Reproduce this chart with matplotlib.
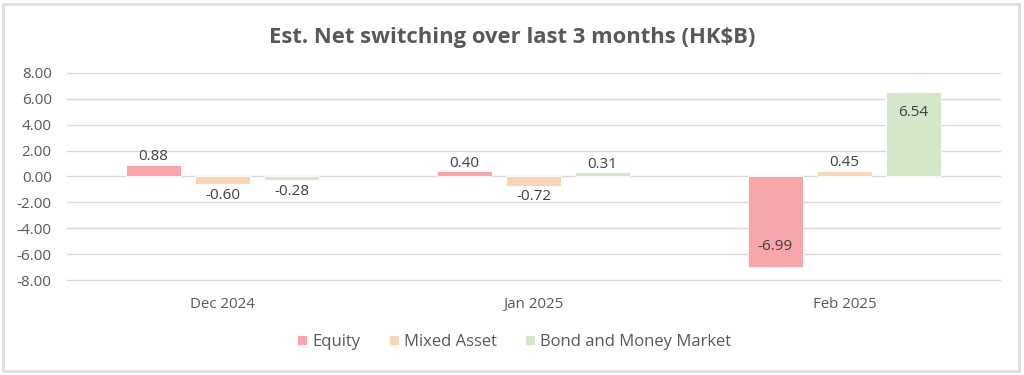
import numpy as np
import matplotlib.pyplot as plt
from matplotlib.patches import Rectangle

plt.rcParams["font.family"] = ["Open Sans", "DejaVu Sans"]

months = ["Dec 2024", "Jan 2025", "Feb 2025"]
series = ["Equity", "Mixed Asset", "Bond and Money Market"]
equity = [0.88, 0.40, -6.99]
mixed = [-0.60, -0.72, 0.45]
bond = [-0.28, 0.31, 6.54]
colors = ["#F8A6AC", "#F6D6B6", "#D4E7C9"]
yticks = [8, 6, 4, 2, 0, -2, -4, -6, -8]

TEXT = "#595959"
LABEL = "#404040"

fig = plt.figure(figsize=(10.24, 3.75), dpi=100)
fig.patch.set_facecolor("white")

# outer chart border
frame = Rectangle((3 / 1024, 4 / 375), 1016 / 1024, 367 / 375,
                  transform=fig.transFigure, facecolor="white",
                  edgecolor="#DEDEDE", linewidth=2.0, zorder=-10)
fig.patches.append(frame)

ax = fig.add_axes([67 / 1024, 95 / 375, 933 / 1024, 207 / 375])
ax.set_facecolor("none")

x = np.arange(len(months))
step = 0.222
width = 0.174
for i, (name, vals) in enumerate(zip(series, [equity, mixed, bond])):
    pos = x + (i - 1) * step
    ax.bar(pos, vals, width, color=colors[i], label=name, zorder=3,
           edgecolor="white", linewidth=0.6)
    for xp, v in zip(pos, vals):
        if abs(v) > 5:
            off = -15 if v > 0 else 15
            ax.annotate(f"{v:.2f}", (xp, v), xytext=(0, off), textcoords="offset points",
                        ha="center", va="center", fontsize=11, color=LABEL, zorder=4)
        elif v >= 0:
            ax.annotate(f"{v:.2f}", (xp, v), xytext=(0, 0.5), textcoords="offset points",
                        ha="center", va="bottom", fontsize=11, color=LABEL, zorder=4)
        else:
            ax.annotate(f"{v:.2f}", (xp, v), xytext=(0, -2.5), textcoords="offset points",
                        ha="center", va="top", fontsize=11, color=LABEL, zorder=4)

ax.set_xlim(-0.5, len(months) - 0.5)
ax.set_ylim(-8, 8)
ax.set_yticks(yticks)
ax.set_yticklabels([f"{t:.2f}" for t in yticks])
ax.set_xticks(x)
ax.set_xticklabels(months)
ax.tick_params(axis="both", length=0, colors=TEXT)
ax.tick_params(axis="y", pad=11, labelsize=11)
ax.tick_params(axis="x", pad=12, labelsize=10.8)
ax.yaxis.grid(True, color="#D9D9D9", linewidth=1.0, zorder=0)
ax.set_axisbelow(True)
for sp in ax.spines.values():
    sp.set_visible(False)
for gl in ax.yaxis.get_gridlines():
    gl.set_clip_on(False)

fig.text(0.5, 1 - 38 / 375, "Est. Net switching over last 3 months (HK$B)",
         ha="center", va="center", fontsize=15.8, fontweight="bold", color=TEXT)

ax.legend(loc="center", bbox_to_anchor=(514 / 1024, 1 - 342 / 375), bbox_transform=fig.transFigure,
          ncol=3, frameon=False, handlelength=0.6, handleheight=0.6, handletextpad=0.3,
          columnspacing=1.7, fontsize=12, labelcolor=TEXT)

fig.savefig("out.png", dpi=100, facecolor="white")
